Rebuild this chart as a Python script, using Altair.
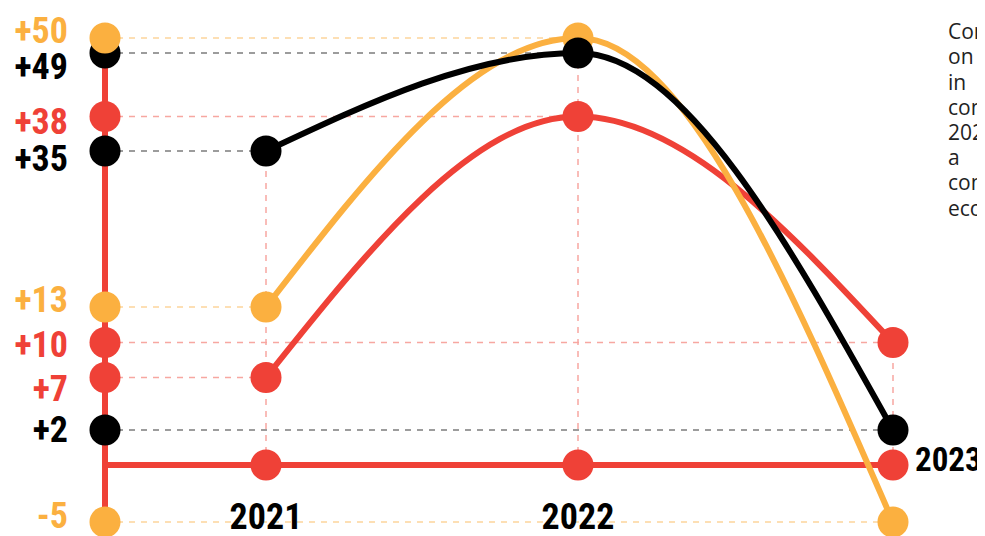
import altair as alt
import pandas as pd

# ---------------- data ----------------
YEARS = [2021, 2022, 2023]
SERIES = ["orange", "red", "black"]
ORANGE = [13, 50, -5]
RED = [7, 38, 10]
BLACK = [35, 49, 2]
PARAGRAPH = ["Compared", "on", "in\u00a0\u00a0\u00a0a", "compared", "2022,", "a\u00a0\u00a0\u00a0high",
             "consumer", "economy"]

# ---------------- styles / layout ----------------
COLOR = ["#FBB040", "#EF4137", "#000000"]
GUIDE = ["#FDD59C", "#F7A7A1", "#7C7C7C"]
# vertical nudge (px) of each value label's baseline below its dot
LABEL_NUDGE = {"orange": [5, 5, 6], "red": [23, 17, 14], "black": [20, 26, 12]}
AXIS_X = 2020.5
X_BREAKS = [AXIS_X] + YEARS
X_PIXELS = [97, 258, 570, 885]
Y_BREAKS = sorted(set(ORANGE + RED + BLACK + [0]))
Y_PIXELS = [514, 457, 422, 369.5, 334.5, 299, 143, 108.5, 45, 30]
W, H = 969, 528
NUM_FONT = "Roboto Condensed, Open Sans Condensed, sans-serif"
NUM_SIZE = 36
DOT = 962

rows = []
for s, vals in zip(SERIES, [ORANGE, RED, BLACK]):
    for yr, v in zip(YEARS, vals):
        rows.append({"series": s, "year": yr, "value": v,
                     "label": ("+" if v > 0 else "") + str(v)})
df = pd.DataFrame(rows)

xs = alt.Scale(domain=X_BREAKS, range=X_PIXELS, nice=False, zero=False)
ys = alt.Scale(domain=Y_BREAKS, range=Y_PIXELS, nice=False, zero=False)
col = alt.Color("series:N", scale=alt.Scale(domain=SERIES, range=COLOR), legend=None)
base = alt.Chart(df)


def X(f):
    return alt.X(f, scale=xs, axis=None)


def Y(f):
    return alt.Y(f, scale=ys, axis=None)


layers = []

# horizontal dashed guides from axis to each point
layers.append(
    base.transform_calculate(ax=str(AXIS_X))
    .mark_rule(strokeWidth=1.5, strokeDash=[6, 6])
    .encode(x=X("ax:Q"), x2="year:Q", y=Y("value:Q"),
            stroke=alt.Stroke("series:N", scale=alt.Scale(domain=SERIES, range=GUIDE), legend=None))
)
# vertical dashed guides at each year
layers.append(
    base.transform_aggregate(vmax="max(value)", groupby=["year"])
    .transform_calculate(z="0")
    .mark_rule(strokeWidth=1.5, strokeDash=[6, 6], color=GUIDE[1])
    .encode(x=X("year:Q"), y=Y("z:Q"), y2="vmax:Q")
)
# vertical axis line
layers.append(
    base.transform_aggregate(vmax="max(value)")
    .transform_calculate(ax=str(AXIS_X))
    .mark_rule(color=COLOR[1], strokeWidth=6)
    .encode(x=X("ax:Q"), y=Y("vmax:Q"), y2=alt.value(H))
)
# zero line
layers.append(
    base.transform_aggregate(xmax="max(year)")
    .transform_calculate(ax=str(AXIS_X), z="0")
    .mark_rule(color=COLOR[1], strokeWidth=6)
    .encode(x=X("ax:Q"), x2="xmax:Q", y=Y("z:Q"))
)
# curves
for s in ["red", "orange", "black"]:
    layers.append(
        base.transform_filter(alt.datum.series == s)
        .mark_line(interpolate="monotone", strokeWidth=6)
        .encode(x=X("year:Q"), y=Y("value:Q"), color=col)
    )
# dots on zero line
layers.append(
    base.transform_aggregate(n="count()", groupby=["year"])
    .transform_calculate(z="0")
    .mark_circle(size=DOT, opacity=1, color=COLOR[1])
    .encode(x=X("year:Q"), y=Y("z:Q"))
)
# data dots
for s in ["red", "orange", "black"]:
    layers.append(
        base.transform_filter(alt.datum.series == s)
        .mark_circle(size=DOT, opacity=1)
        .encode(x=X("year:Q"), y=Y("value:Q"), color=col)
    )
# axis dots
for s in ["black", "red", "orange"]:
    layers.append(
        base.transform_filter(alt.datum.series == s)
        .transform_calculate(ax=str(AXIS_X))
        .mark_circle(size=DOT, opacity=1)
        .encode(x=X("ax:Q"), y=Y("value:Q"), color=col)
    )
# value labels
for s in SERIES:
    for yr, nud in zip(YEARS, LABEL_NUDGE[s]):
        layers.append(
            base.transform_filter((alt.datum.series == s) & (alt.datum.year == yr))
            .transform_calculate(ax=str(AXIS_X))
            .mark_text(font=NUM_FONT, fontSize=NUM_SIZE, fontWeight="bold", align="right",
                       baseline="alphabetic", dx=-37, dy=nud)
            .encode(x=X("ax:Q"), y=Y("value:Q"), text="label:N", color=col)
        )
# year labels
yr_base = base.transform_aggregate(n="count()", groupby=["year"]).transform_calculate(z="0")
layers.append(
    yr_base.transform_filter(alt.datum.year < max(YEARS))
    .mark_text(font=NUM_FONT, fontSize=NUM_SIZE, fontWeight="bold", align="center",
               baseline="alphabetic", dy=64, color="#000")
    .encode(x=X("year:Q"), y=Y("z:Q"), text=alt.Text("year:Q", format="d"))
)
layers.append(
    yr_base.transform_filter(alt.datum.year == max(YEARS))
    .mark_text(font=NUM_FONT, fontSize=33, fontWeight="bold", align="left",
               baseline="alphabetic", dx=22, dy=6, color="#000")
    .encode(x=X("year:Q"), y=Y("z:Q"), text=alt.Text("year:Q", format="d"))
)
# side paragraph (cut at the page edge)
layers.append(
    alt.Chart(pd.DataFrame({"t": ["\n".join(PARAGRAPH)]}))
    .mark_text(font="Open Sans", fontSize=21, align="left", baseline="alphabetic",
               lineBreak="\n", lineHeight=25.2, color="#222", clip=True)
    .encode(x=alt.value(940), y=alt.value(31.3), text="t:N")
)

chart = alt.layer(*layers).properties(
    width=W, height=H, padding=0, autosize=alt.AutoSizeParams(type="none")
).configure_view(stroke=None)

chart.save("out.html", embed_options={"renderer": "svg", "actions": False})
